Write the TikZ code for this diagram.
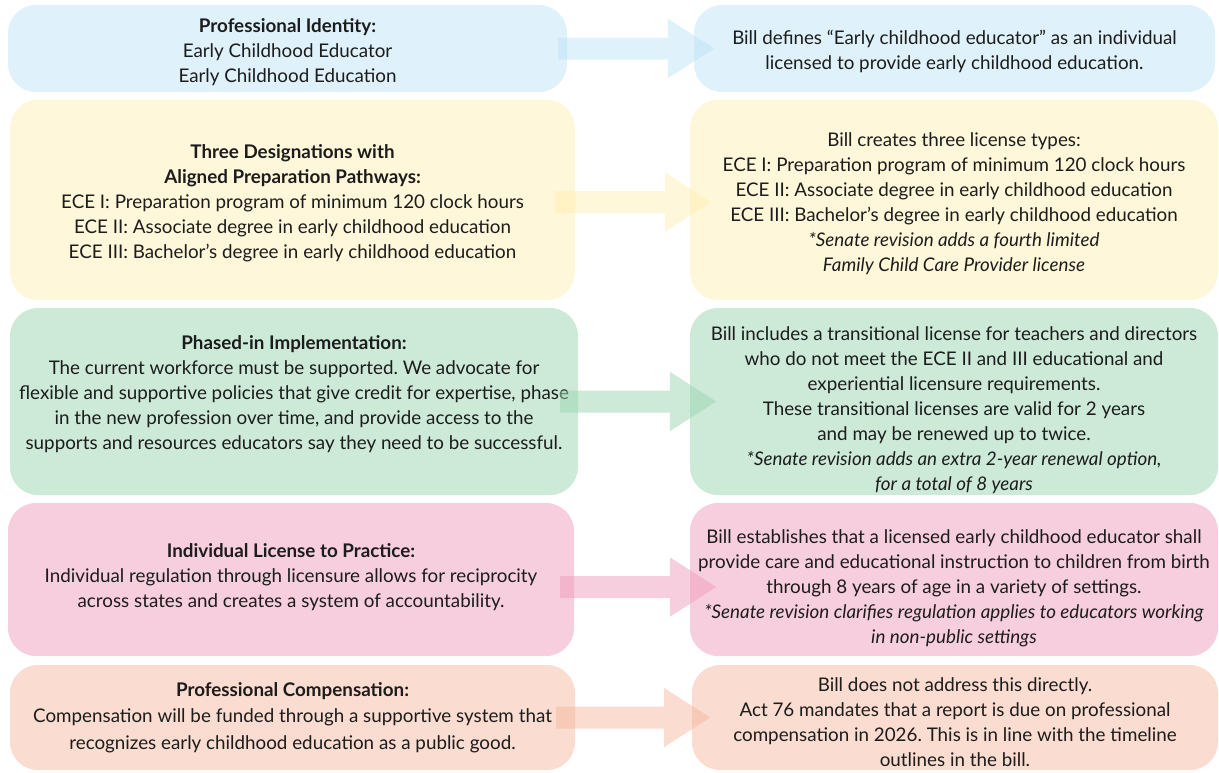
\documentclass[tikz,border=0pt]{standalone}
\usepackage{fontspec}
\setmainfont{Lato}
\frenchspacing
\usetikzlibrary{arrows.meta}
\definecolor{txt}{HTML}{1C1C1C}
\definecolor{blueB}{HTML}{DFF1FA}\definecolor{blueA}{HTML}{BFE3F5}
\definecolor{yelB}{HTML}{FFF7D9}\definecolor{yelA}{HTML}{FFEFB3}
\definecolor{grnB}{HTML}{CDEAD9}\definecolor{grnA}{HTML}{9BD5B3}
\definecolor{pnkB}{HTML}{F7CEDD}\definecolor{pnkA}{HTML}{EF9DBB}
\definecolor{pchB}{HTML}{FADCD0}\definecolor{pchA}{HTML}{F5B9A1}
\begin{document}
\begin{tikzpicture}[x=1pt,y=1pt,
  box/.style={rectangle, rounded corners=28pt, draw=none, inner sep=0pt},
  boxtext/.style={align=center, text=txt, font=\fontsize{18.8}{25}\selectfont, inner sep=0pt},
  bigarrow/.style={line width=22pt, -{Triangle[length=47pt,width=56pt]}}]
\useasboundingbox (0,0) rectangle (1219,-772);
% boxes, left column
\node[box, fill=blueB, minimum width=559, minimum height=87] (L1) at (287.5,-48.5) {};
\node[box, fill=yelB, minimum width=565, minimum height=200] (L2) at (292.5,-200) {};
\node[box, fill=grnB, minimum width=568, minimum height=187] (L3) at (294,-401.5) {};
\node[box, fill=pnkB, minimum width=566, minimum height=153] (L4) at (291,-579.5) {};
\node[box, fill=pchB, minimum width=565, minimum height=105] (L5) at (292.5,-717.5) {};
% boxes, right column
\node[box, fill=blueB, minimum width=521, minimum height=87] (R1) at (954.5,-48.5) {};
\node[box, fill=yelB, minimum width=528, minimum height=200] (R2) at (954,-200) {};
\node[box, fill=grnB, minimum width=528, minimum height=187] (R3) at (954,-401.5) {};
\node[box, fill=pnkB, minimum width=528, minimum height=153] (R4) at (954,-579.5) {};
\node[box, fill=pchB, minimum width=526, minimum height=105] (R5) at (955,-717.5) {};
% texts, left column
\node[boxtext] (L1t) at ([yshift=-4pt]L1.center)
 {\textbf{Professional Identity:}\\Early Childhood Educator\\Early Childhood Education};
\node[boxtext] (L2t) at ([yshift=-3pt]L2.center)
 {\textbf{Three Designations with}\\\textbf{Aligned Preparation Pathways:}\\ECE I: Preparation program of minimum 120 clock hours\\ECE II: Associate degree in early childhood education\\ECE III: Bachelor’s degree in early childhood education};
\node[boxtext] (L3t) at ([yshift=7pt]L3.center)
 {\textbf{Phased-in Implementation:}\\The current workforce must be supported. We advocate for\\flexible and supportive policies that give credit for expertise, phase\\in the new profession over time, and provide access to the\\supports and resources educators say they need to be successful.};
\node[boxtext] (L4t) at ([yshift=2pt]L4.center)
 {\textbf{Individual License to Practice:}\\Individual regulation through licensure allows for reciprocity\\across states and creates a system of accountability.};
\node[boxtext, font=\fontsize{18.8}{26.5}\selectfont] (L5t) at (L5.center)
 {\textbf{Professional Compensation:}\\Compensation will be funded through a supportive system that\\recognizes early childhood education as a public good.};
% texts, right column
\node[boxtext] (R1t) at ([yshift=-3pt]R1.center)
 {Bill defines “Early childhood educator” as an individual\\licensed to provide early childhood education.};
\node[boxtext] (R2t) at ([yshift=-4pt]R2.center)
 {Bill creates three license types:\\ECE I: Preparation program of minimum 120 clock hours\\ECE II: Associate degree in early childhood education\\ECE III: Bachelor’s degree in early childhood education\\\textit{*Senate revision adds a fourth limited}\\\textit{Family Child Care Provider license}};
\node[boxtext] (R3t) at ([yshift=-9pt]R3.center)
 {Bill includes a transitional license for teachers and directors\\who do not meet the ECE II and III educational and\\experiential licensure requirements.\\These transitional licenses are valid for 2 years\\and may be renewed up to twice.\\\textit{*Senate revision adds an extra 2-year renewal option,}\\\textit{for a total of 8 years}};
\node[boxtext] (R4t) at ([yshift=-9pt]R4.center)
 {Bill establishes that a licensed early childhood educator shall\\provide care and educational instruction to children from birth\\through 8 years of age in a variety of settings.\\\textit{*Senate revision clarifies regulation applies to educators working}\\\textit{in non-public settings}};
\node[boxtext] (R5t) at ([yshift=-5pt]R5.center)
 {Bill does not address this directly.\\Act 76 mandates that a report is due on professional\\compensation in 2026. This is in line with the timeline\\outlines in the bill.};
% arrows
\begin{scope}[transparency group, opacity=0.5]
\draw[bigarrow, blueA] ([xshift=-9pt]L1.east) -- ([xshift=21pt]R1.west);
\end{scope}
\begin{scope}[transparency group, opacity=0.5]
\draw[bigarrow, yelA] ([xshift=-20pt,yshift=-2pt]L2.east) -- ([xshift=22pt,yshift=-2pt]R2.west);
\end{scope}
\begin{scope}[transparency group, opacity=0.5]
\draw[bigarrow, grnA] ([xshift=-18pt]L3.east) -- ([xshift=27pt]R3.west);
\end{scope}
\begin{scope}[transparency group, opacity=0.5]
\draw[bigarrow, pnkA] ([xshift=-14pt,yshift=-7.5pt]L4.east) -- ([xshift=27pt,yshift=-7.5pt]R4.west);
\end{scope}
\begin{scope}[transparency group, opacity=0.5]
\draw[bigarrow, pchA] ([xshift=-19pt]L5.east) -- ([xshift=19pt]R5.west);
\end{scope}
\end{tikzpicture}
\end{document}
